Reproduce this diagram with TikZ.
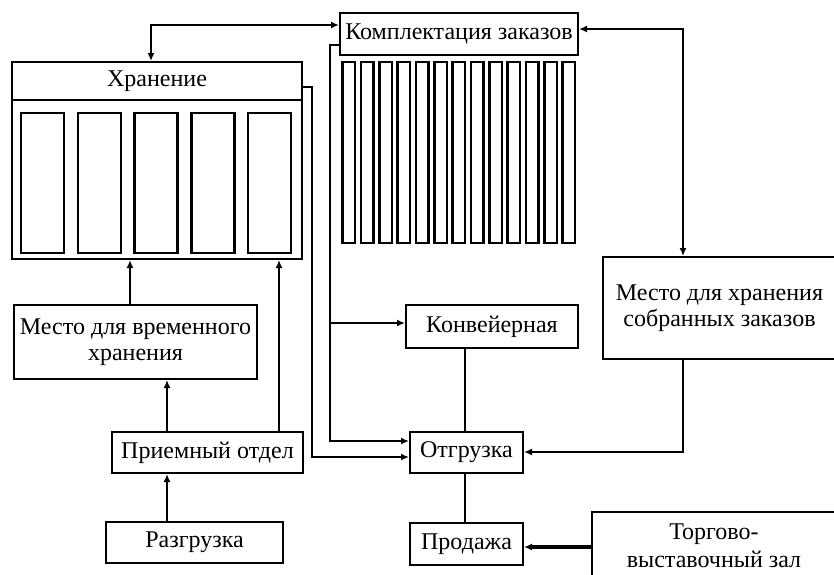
\documentclass[tikz,border=0pt]{standalone}
\usepackage{fontspec}
\setmainfont{Liberation Serif}
\usetikzlibrary{arrows.meta}
\begin{document}
\begin{tikzpicture}[x=1pt,y=-1pt,
  box/.style={draw,line width=2pt,inner sep=0pt,align=center,font=\fontsize{24}{26.5}\selectfont},
  rack/.style={draw,line width=2.5pt},
  conn/.style={line width=2.6pt},
  tip/.tip={Latex[length=8pt,width=7pt]}]
\useasboundingbox (0,0) rectangle (834,574);
\clip (0,0) rectangle (834,574);
% Storage
\node[box,minimum width=290,minimum height=197] (hran) at (157,160.5) {};
\node[box,minimum width=290,minimum height=38] (hranhead) at (157,81) {Хранение};
\foreach \i in {0,...,4}{
  \draw[rack] (21+56.75*\i,113) rectangle ++(43,140);
}
% Order picking
\node[box,minimum width=238,minimum height=42] (komp) at (459,34) {Комплектация заказов};
\foreach \i in {0,...,12}{
  \draw[rack] (342.7+18.33*\i,62) rectangle ++(12.5,181);
}
\node[box,minimum width=243,minimum height=74] (vrem) at (135.5,342) {Место для временного\\хранения};
\node[box,minimum width=191,minimum height=41] (priem) at (207.5,452.5) {Приемный отдел};
\node[box,minimum width=177,minimum height=41] (razg) at (194.5,542.5) {Разгрузка};
\node[box,minimum width=172,minimum height=43] (konv) at (492,326.5) {Конвейерная};
\node[box,minimum width=113,minimum height=41] (otgr) at (466.5,452.5) {Отгрузка};
\node[box,minimum width=113,minimum height=42] (prod) at (466.5,544) {Продажа};
\node[box,minimum width=233,minimum height=102] (sobr) at (719.5,308) {Место для хранения\\собранных заказов};
\node[box,minimum width=244,minimum height=68,font=\fontsize{24}{28}\selectfont] (torg) at (714,546) {Торгово-\\выставочный зал};
% connectors
\coordinate (a1) at (151,25);
\draw[conn,tip-tip] (hran.north -| a1) -- (a1) -- (komp.west |- a1);
\coordinate (a2) at (683,29);
\draw[conn,tip-tip] (komp.east |- a2) -- (a2) -- (sobr.north -| a2);
\coordinate (a3) at (330,45);
\coordinate (a3b) at (330,441);
\coordinate (a3c) at (330,323);
\draw[conn,-tip] (komp.west |- a3) -- (a3) -- (a3b) -- (otgr.west |- a3b);
\draw[conn,-tip] (a3c) -- (konv.west |- a3c);
\coordinate (a4) at (312,87);
\coordinate (a4b) at (312,457);
\draw[conn,-tip] (hran.east |- a4) -- (a4) -- (a4b) -- (otgr.west |- a4b);
\coordinate (a5) at (130,0);
\draw[conn,-tip] (vrem.north -| a5) -- (hran.south -| a5);
\coordinate (a6) at (167,0);
\draw[conn,-tip] (priem.north -| a6) -- (vrem.south -| a6);
\draw[conn,-tip] (razg.north -| a6) -- (priem.south -| a6);
\coordinate (a7) at (279,0);
\draw[conn,-tip] (priem.north -| a7) -- (hran.south -| a7);
\coordinate (a8) at (465,0);
\draw[conn] (konv.south -| a8) -- (otgr.north -| a8);
\draw[conn] (otgr.south -| a8) -- (prod.north -| a8);
\coordinate (a9) at (683,452);
\draw[conn,-tip] (sobr.south -| a9) -- (a9) -- (otgr.east |- a9);
\coordinate (a10) at (0,547);
\draw[conn,line width=3.4pt,-tip] (torg.west |- a10) -- (prod.east |- a10);
\end{tikzpicture}
\end{document}
